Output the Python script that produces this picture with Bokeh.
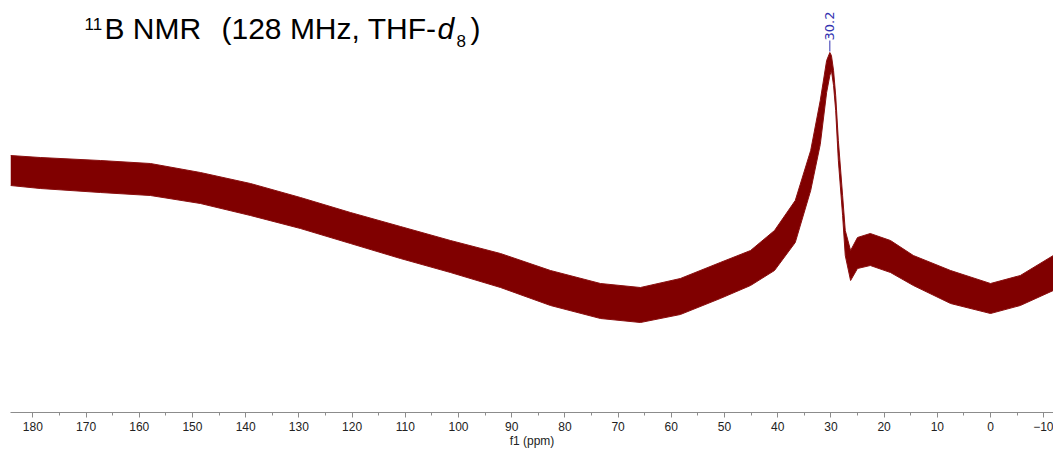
from bokeh.plotting import figure
from bokeh.models import Range1d, FixedTicker, Label
from bokeh.embed import file_html
from bokeh.resources import INLINE
from bokeh.core.properties import value

# ---- data (chemical shift in ppm, intensity in arbitrary units) ----
ppm = [184.2, 178.6, 167.3, 157.9, 148.5, 139.1, 129.7, 120.3, 110.9, 101.5,
       92.1, 82.7, 73.3, 65.8, 58.3, 50.8, 45.1, 40.6, 36.7, 33.8,
       32.0, 30.8, 30.2, 29.9, 29.5, 29.1, 28.6, 27.8, 27.3, 26.3,
       25.0, 22.6, 18.8, 14.5, 7.5, 0.0, -5.6, -11.8]
# upper / lower edge of the noisy trace
upper = [257, 255, 252, 249, 240, 229, 215, 200, 186, 172,
         159, 142, 129, 125, 134, 150, 162, 182, 212, 262,
         312, 352, 360, 357, 342, 317, 272, 217, 182, 162,
         175, 179, 172, 157, 142, 129, 137, 157]
lower = [227, 224, 220, 217, 209, 197, 184, 169, 154, 140,
         125, 107, 94, 90, 98, 114, 127, 142, 170, 222,
         268, 320, 337, 342, 327, 302, 252, 197, 157, 132,
         144, 147, 140, 127, 109, 99, 107, 122]

peak_labels = [30.2]
peak_text = ["30.2"]
major_ticks = list(range(180, -20, -10))
minor_ticks = list(range(185, -15, -5))

W, H = 1053, 451
LEFT, RIGHT, TOP, BOTTOM = 10, 0, 0, 39
FRAME_H = H - TOP - BOTTOM
X0, X1 = 184.2, -11.84


def px_x(x):
    return X0 + (X1 - X0) * (x - LEFT) / (W - LEFT - RIGHT)


def px_y(y):
    return FRAME_H - (y - TOP)


p = figure(width=W, height=H, output_backend="svg", toolbar_location=None,
           x_range=Range1d(X0, X1), y_range=Range1d(0, FRAME_H),
           min_border_left=LEFT, min_border_right=RIGHT,
           min_border_top=TOP, min_border_bottom=BOTTOM)
p.yaxis.visible = False
p.grid.visible = False
p.outline_line_color = None
p.background_fill_color = "white"
p.border_fill_color = "white"

p.varea(x=ppm, y1=lower, y2=upper, fill_color="#800000")
p.line(x=ppm, y=upper, line_color="#8a1010", line_width=1)
p.line(x=ppm, y=lower, line_color="#8a1010", line_width=1)

# peak annotation
p.segment(x0=peak_labels, x1=peak_labels, y0=[px_y(40)], y1=[px_y(51)],
          line_color="#3333b0", line_width=1)
p.text(x=peak_labels, y=[px_y(40)], text=peak_text, angle=1.5708,
       text_align="left", text_baseline="middle",
       text_font=value("DejaVu Sans"), text_font_size="13px",
       text_color="#3333b0")

ax = p.xaxis[0]
ax.ticker = FixedTicker(ticks=major_ticks, minor_ticks=minor_ticks)
ax.axis_line_color = "#8c8c8c"
ax.major_tick_line_color = "#8c8c8c"
ax.minor_tick_line_color = "#8c8c8c"
ax.major_tick_in = 0
ax.major_tick_out = 5
ax.minor_tick_in = 0
ax.minor_tick_out = 3
ax.major_label_text_font = "Liberation Sans"
ax.major_label_text_font_size = "12px"
ax.major_label_text_color = "#222222"
ax.major_label_standoff = 4
ax.axis_label = "f1 (ppm)"
ax.axis_label_text_font = "Liberation Sans"
ax.axis_label_text_font_size = "12px"
ax.axis_label_text_font_style = "normal"
ax.axis_label_text_color = "#222222"
ax.axis_label_standoff = 0

# title pieces
FONT = "Liberation Sans"
def title_piece(x, y, text, size, style="normal"):
    p.add_layout(Label(x=px_x(x), y=px_y(y), text=text, text_font=FONT,
                       text_font_size=size, text_font_style=style,
                       text_color="black", text_baseline="alphabetic"))

title_piece(84, 23, "11", "17px")
title_piece(104, 28, "B NMR", "30px")
title_piece(221, 28, "(128 MHz, THF-", "30px")
title_piece(437, 28, "d", "30px", "italic")
title_piece(456, 40, "8", "17px")
title_piece(470, 28, ")", "30px")

open("out.html", "w").write(file_html(p, INLINE))
